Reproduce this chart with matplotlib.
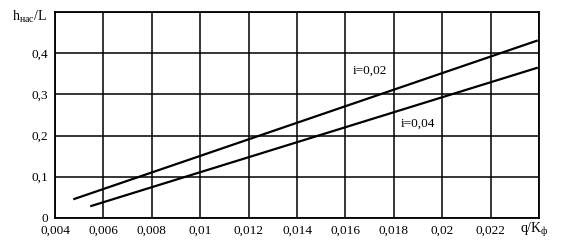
import matplotlib
matplotlib.use('Agg')
import matplotlib.pyplot as plt
import numpy as np

plt.rcParams['font.family'] = ['Liberation Serif', 'DejaVu Serif']
plt.rcParams['font.size'] = 9

# line endpoints (q/K_ф, h_нас/L)
q_i002 = [0.0048, 0.0239]
h_i002 = [0.046, 0.430]
q_i004 = [0.0055, 0.0239]
h_i004 = [0.029, 0.364]

x_ticks = [0.004, 0.006, 0.008, 0.010, 0.012, 0.014, 0.016, 0.018, 0.020, 0.022, 0.024]
x_labels = ['0,004', '0,006', '0,008', '0,01', '0,012', '0,014', '0,016', '0,018', '0,02', '0,022', '']
y_ticks = [0.0, 0.1, 0.2, 0.3, 0.4, 0.5]
y_labels = ['0', '0,1', '0,2', '0,3', '0,4', '']

fig = plt.figure(figsize=(5.61, 2.44), dpi=100)
ax = fig.add_axes([0.098, 0.107, 0.863, 0.844])

ax.plot(q_i002, h_i002, color='black', linewidth=1.6)
ax.plot(q_i004, h_i004, color='black', linewidth=1.6)

ax.set_xlim(0.004, 0.024)
ax.set_ylim(0.0, 0.5)
ax.set_xticks(x_ticks)
ax.set_xticklabels(x_labels)
ax.set_yticks(y_ticks)
ax.set_yticklabels(y_labels)
ax.tick_params(length=0, pad=5, labelsize=9.5)
ax.grid(True, color='black', linewidth=1.1)
for s in ax.spines.values():
    s.set_linewidth(1.3)

ax.text(0.0170, 0.357, 'i=0,02', fontsize=9.5, ha='center', va='center')
ax.text(0.0190, 0.228, 'i=0,04', fontsize=9.5, ha='center', va='center')

fig.text(0.022, 0.93, 'h$_{\\mathregular{нас}}$/L', fontsize=10, ha='left', va='center')
fig.text(0.952, 0.058, 'q/K$_{\\mathregular{ф}}$', fontsize=10, ha='center', va='center')

fig.savefig('out.png', dpi=100)
